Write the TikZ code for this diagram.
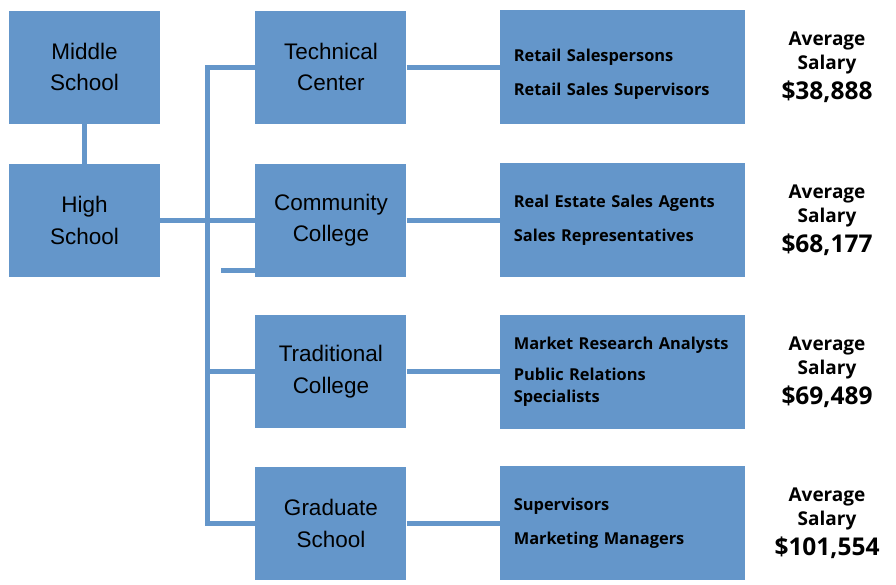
\documentclass[tikz,border=0pt]{standalone}
\usepackage{fontspec}
\setmainfont{Liberation Sans}
\newfontfamily\jobfont{Open Sans}
\usepackage{tikz}
\usetikzlibrary{positioning}
\definecolor{boxblue}{RGB}{100,150,202}
\tikzstyle{link} = [draw, line width=5pt, color=boxblue]

\begin{document}
\begin{tikzpicture}[x=1pt, y=-1pt,
        school/.style={fill=boxblue, rectangle, inner sep=0pt, minimum width=151pt, minimum height=113pt,
            align=center, font=\fontsize{22.5}{31.5}\selectfont},
        jobs/.style={fill=boxblue, rectangle, inner xsep=14pt, inner ysep=0pt, text width=217pt,
            minimum height=114pt, align=left, font=\jobfont\bfseries\fontsize{16.4}{22}\selectfont},
        salary/.style={align=center, inner sep=0pt, font=\jobfont\bfseries\fontsize{19}{24}\selectfont}]
    \useasboundingbox (0,0) rectangle (896,584);

    \node[school](node1) at (84.5, 67) {Middle\\School};
    \node[school, below=40pt of node1](node2) {High\\School};

    \node[school, right=95pt of node1](node21) {Technical\\Center};
    \node[school, below=40pt of node21](node22) {Community\\College};
    \node[school, below=38pt of node22](node23) {Traditional\\College};
    \node[school, below=38pt of node23](node24) {Graduate\\School};

    \node[jobs, right=93pt of node21](node31) {\rule{0pt}{26pt}Retail Salespersons\\[12pt]Retail Sales Supervisors};
    \node[jobs, right=93pt of node22](node32) {Real Estate Sales Agents\\[12pt]Sales Representatives};
    \node[jobs, right=93pt of node23](node33) {\mbox{Market Research Analysts}\\[9pt]Public Relations\\Specialists};
    \node[jobs, right=93pt of node24](node34) {Supervisors\\[12pt]Marketing Managers};

    \node[salary, right=82pt of node31, anchor=center](node41) {Average\\Salary\\[6pt]{\fontsize{24.5}{28}\selectfont \$38,888}};
    \node[salary, right=82pt of node32, anchor=center](node42) {Average\\Salary\\[6pt]{\fontsize{24.5}{28}\selectfont \$68,177}};
    \node[salary, right=82pt of node33, anchor=center](node43) {Average\\Salary\\[6pt]{\fontsize{24.5}{28}\selectfont \$69,489}};
    \node[salary, right=82pt of node34, anchor=center](node44) {Average\\Salary\\[6pt]{\fontsize{24.5}{28}\selectfont \$101,554}};

    \draw[link] (node1) -- (node2);
    \draw[link] (node2) -- (node22);
    \draw[link] (node21.west) -- ++(-48,0) |- (node24.west);
    \draw[link] (node23.west) -- ++(-48,0);
    \draw[link] ([yshift=7pt]node22.south west) -- ++(-34,0);
    \foreach \i in {1,...,4}
        \draw[link] (node2\i) -- (node3\i);
\end{tikzpicture}
\end{document}
